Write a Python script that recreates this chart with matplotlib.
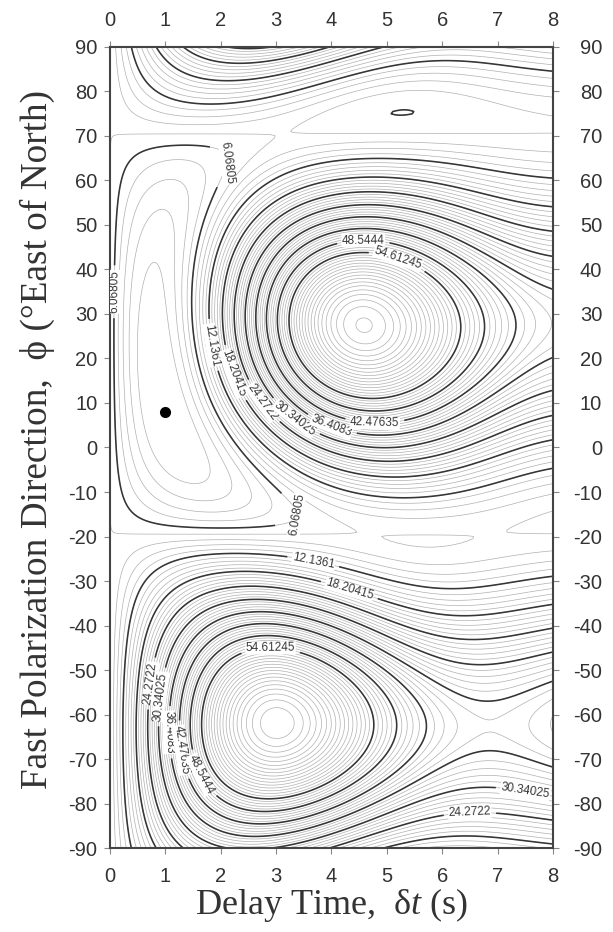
import numpy as np
import matplotlib
matplotlib.use('Agg')
import matplotlib.pyplot as plt
from matplotlib.patches import Rectangle

# tick values
delay_ticks = [0, 1, 2, 3, 4, 5, 6, 7, 8]
phi_ticks = list(range(-90, 91, 10))

# best splitting parameters (black dot)
best_dt = 1.0
best_phi = 8.0

# values: valley direction (initial polarization),
# spacing of the two maxima (dominant period), energy at dt = 0 and at the peaks
pol_dir = -19.5
period = 8.4
envelope = 4.0
edge_energy = 7.3
peak_energy = 75.0

# labelled contour levels
major_levels = [6.06805, 12.1361, 18.20415, 24.2722, 30.34025,
                36.4083, 42.47635, 48.5444, 54.61245]

# energy grid of the corrected transverse component
dt = np.linspace(0, 8, 321)
phi = np.linspace(-90, 90, 361)
D, F = np.meshgrid(dt, phi)
al = np.radians(pol_dir - best_phi)
be = np.radians(best_phi - F)
ga = np.radians(pol_dir - F)
coef = [-np.sin(ga) * np.cos(al) * np.cos(be),
        np.sin(ga) * np.sin(al) * np.sin(be),
        np.cos(ga) * np.cos(al) * np.sin(be),
        np.cos(ga) * np.sin(al) * np.cos(be)]
lag = [0 * D, best_dt + 0 * D, -D, best_dt - D]


def acf(tau):
    return np.exp(-tau ** 2 / (2 * envelope ** 2)) * np.cos(2 * np.pi * tau / period)


E = sum(coef[i] * coef[j] * acf(lag[i] - lag[j]) for i in range(4) for j in range(4))
E = np.clip(E / E.max(), 1e-9, None)
e0 = E[:, 0].mean()
q = np.log(peak_energy / edge_energy) / np.log(1 / e0)
E = edge_energy * (E / e0) ** q

step = major_levels[0] / 5
minor_levels = np.arange(step, E.max(), step)

plt.rcParams['font.family'] = ['Liberation Sans', 'DejaVu Sans']
plt.rcParams['axes.unicode_minus'] = False
plt.rcParams['mathtext.fontset'] = 'custom'
plt.rcParams['mathtext.rm'] = 'Liberation Serif'
plt.rcParams['mathtext.it'] = 'Liberation Serif:italic'

fig = plt.figure(figsize=(6.13, 9.32), dpi=100)
ax = fig.add_axes([0.1794, 0.0901, 0.7226, 0.8595])

ax.contour(D, F, E, levels=minor_levels, colors='#b0b0b0', linewidths=0.5)
cs = ax.contour(D, F, E, levels=major_levels, colors='#363636', linewidths=1.15)

# where the reference puts its contour labels (level, dt, phi)
label_hints = [(6.06805, 0.17, 35), (6.06805, 3.0, 63), (6.06805, 4.3, -13),
               (12.1361, 1.95, 23), (12.1361, 3.6, -30),
               (18.20415, 2.3, 17), (18.20415, 4.25, -35),
               (24.2722, 2.85, 11), (24.2722, 0.8, -53), (24.2722, 6.5, -84),
               (30.34025, 3.55, 10), (30.34025, 0.93, -56), (30.34025, 7.45, -81),
               (36.4083, 4.15, 10), (36.4083, 1.17, -64),
               (42.47635, 4.8, 11), (42.47635, 1.39, -68),
               (48.5444, 4.57, 42), (48.5444, 1.86, -72),
               (54.61245, 5.1, 39), (54.61245, 2.9, -50)]
spots = []
paths = cs.get_paths()
for lv, x, y in label_hints:
    pts = paths[major_levels.index(lv)].vertices
    if len(pts) == 0:
        continue
    dist = ((pts[:, 0] - x) * 55.4) ** 2 + ((pts[:, 1] - y) * 4.45) ** 2
    spots.append(tuple(pts[dist.argmin()]))

fmt = {lv: ('%.5f' % lv).rstrip('0') for lv in major_levels}
labels = ax.clabel(cs, manual=spots, inline=True, fmt=fmt, fontsize=8.5)
for t in labels:
    t.set_bbox(dict(facecolor='white', edgecolor='none', pad=0.3))

ax.plot(best_dt, best_phi, 'o', color='black', ms=7)

ax.set_xlim(0, 8)
ax.set_ylim(-90, 90)
ax.set_xticks(delay_ticks)
ax.set_yticks(phi_ticks)
tick_style = dict(direction='out', length=4, width=0.8, color='#888888',
                  labelsize=14.5, labelcolor='#333333')
ax.tick_params(axis='x', pad=10, **tick_style)
ax.tick_params(axis='y', pad=5, **tick_style)
for s in ax.spines.values():
    s.set_linewidth(1.5)
    s.set_color('#444444')

top = ax.secondary_xaxis('top')
top.set_xticks(delay_ticks)
top.tick_params(pad=8.5, **tick_style)
right = ax.secondary_yaxis('right')
right.set_yticks(phi_ticks)
right.tick_params(pad=31.5, **tick_style)
plt.setp(right.get_yticklabels(), ha='right')
for a in (top, right):
    for s in a.spines.values():
        s.set_visible(False)

serif = ['Liberation Serif', 'DejaVu Serif']
ax.set_xlabel('Delay Time,  \u03b4$\\it{t}$ (s)', fontsize=26, family=serif,
              color='#333333')
ax.xaxis.set_label_coords(0.5, -0.0475)
ax.set_ylabel('Fast Polarization Direction,  \u03d5 (\u00b0East of North)',
              fontsize=26.8, family=serif, color='#333333')
ax.yaxis.set_label_coords(-0.125, 0.51)

# the source image is cut just right of the right-hand labels
fig.patches.append(Rectangle((606 / 613, 0), 7 / 613, 1, transform=fig.transFigure,
                             facecolor='white', edgecolor='none', zorder=10))

fig.savefig('out.png', dpi=100)
